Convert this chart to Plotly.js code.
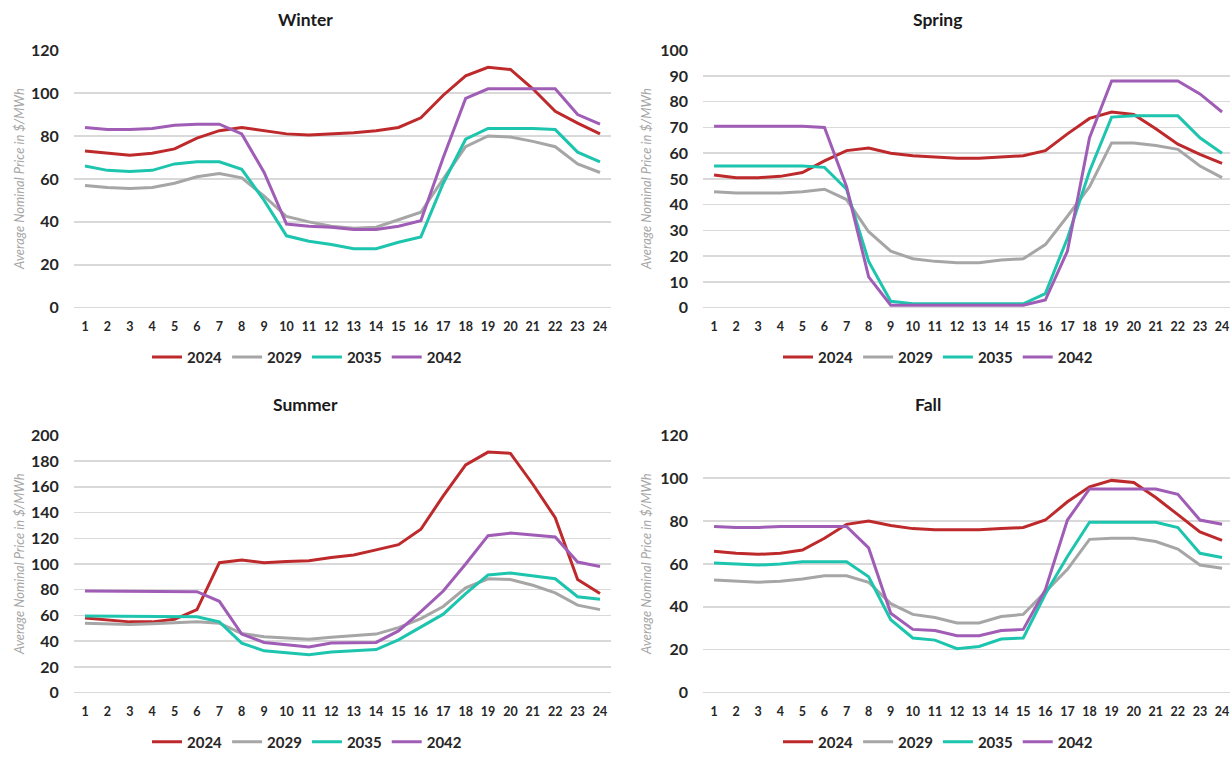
<!DOCTYPE html>
<html>
<head>
<meta charset="utf-8">
<script src="https://cdn.plot.ly/plotly-3.0.1.min.js"></script>
<style>html,body{margin:0;padding:0;background:#fff;}#chart{width:1230px;height:759px;}</style>
</head>
<body>
<div id="chart"></div>
<script>
// Hours
const hours = [1,2,3,4,5,6,7,8,9,10,11,12,13,14,15,16,17,18,19,20,21,22,23,24];
const years = ["2024","2029","2035","2042"];
const seasons = ["Winter","Spring","Summer","Fall"];

// Winter
const winter2024 = [73,72,71,72,74,79,82.5,84,82.5,81,80.5,81,81.5,82.5,84,88.5,99,108,112,111,102,91.5,86,81];
const winter2029 = [57,56,55.5,56,58,61,62.5,60.5,52,42.5,40,38,37,37.5,41,44.5,60,75,80,79.5,77.5,75,67,63];
const winter2035 = [66,64,63.5,64,67,68,68,64.5,50,33.5,31,29.5,27.5,27.5,30.5,33,58,78.5,83.5,83.5,83.5,83,72.5,68];
const winter2042 = [84,83,83,83.5,85,85.5,85.5,81,63,39,38,37.5,36.5,36.5,38,40.5,70,97.5,102,102,102,102,90,85.5];

// Spring
const spring2024 = [51.5,50.5,50.5,51,52.5,57,61,62,60,59,58.5,58,58,58.5,59,61,67.5,73.5,76,75,69.5,63.5,59.5,56];
const spring2029 = [45,44.5,44.5,44.5,45,46,42,29.5,22,19,18,17.5,17.5,18.5,19,24.5,35.5,47,64,64,63,61.5,55,50.5];
const spring2035 = [55,55,55,55,55,54.5,46,18,2.5,1.5,1.5,1.5,1.5,1.5,1.5,5.5,27,53,74,74.5,74.5,74.5,66,60];
const spring2042 = [70.5,70.5,70.5,70.5,70.5,70,47,12,1,1,1,1,1,1,1,3,22,66,88,88,88,88,83,76];

// Summer
const summer2024 = [58,56.5,55,55,57,64.5,101,103,101,102,102.5,105,107,111,115,127,153,177,187,186,162,136,88,77];
const summer2029 = [54,53.5,53,53.5,54,55,54,46,43.5,42.5,41.5,43,44,45.5,50.5,57.5,67,81.5,88.5,88,83.5,77.5,68,64.5];
const summer2035 = [59.5,59.5,59.5,59.5,59.5,59,55,38.5,32.5,31,29.5,31.5,32.5,33.5,41,51,61,77,91.5,93,90.5,88.5,74.5,72.5];
const summer2042 = [79,79,79,79,79,78.5,71,45.5,39,37,35.5,38.5,39,39,48,63,79,100,122,124,122.5,121,101.5,98];

// Fall
const fall2024 = [66,65,64.5,65,66.5,72,78.5,80,78,76.5,76,76,76,76.5,77,80.5,89,96,99,98,91,83,75,71];
const fall2029 = [52.5,52,51.5,52,53,54.5,54.5,51.5,41.5,36.5,35,32.5,32.5,35.5,36.5,47,57.5,71.5,72,72,70.5,67,59.5,58];
const fall2035 = [60.5,60,59.5,60,61,61,61,54,34,25.5,24.5,20.5,21.5,25,25.5,46,63.5,79.5,79.5,79.5,79.5,77,65,63];
const fall2042 = [77.5,77,77,77.5,77.5,77.5,77.5,67.5,37,29.5,29,26.5,26.5,29,29.5,48,80.5,95,95,95,95,92.5,80.5,78.5];

const yTitle = "Average Nominal Price in $/MWh";

const colors = {"2024":"#BE2A2C","2029":"#A6A6A6","2035":"#1DC5AE","2042":"#A05DB6"};
const FONT = "Lato, 'Open Sans', 'Liberation Sans', sans-serif";

const seriesBySeason = [
  [winter2024, winter2029, winter2035, winter2042],
  [spring2024, spring2029, spring2035, spring2042],
  [summer2024, summer2029, summer2035, summer2042],
  [fall2024, fall2029, fall2035, fall2042]
];

const W = 1230, H = 759;
const px = v => v / W;
const py = v => (H - v) / H;

const axisSuffix = ["", "2", "3", "4"];
const legendIds = ["legend", "legend2", "legend3", "legend4"];

const traces = [];
seriesBySeason.forEach((set, si) => {
  set.forEach((vals, yi) => {
    traces.push({
      x: hours, y: vals, type: "scatter", mode: "lines",
      name: years[yi],
      line: {color: colors[years[yi]], width: 3},
      xaxis: "x" + axisSuffix[si], yaxis: "y" + axisSuffix[si],
      legend: legendIds[si],
      hoverinfo: "skip"
    });
  });
});

// panel geometry (pixels)
const panels = [
  {xl: 73.8, xr: 611.2, yt: 50.7, yb: 311, xrange: [0.5, 24.5], ymax: 120, dtick: 20, titleX: 305, titleY: 20, legX: 307, legY: 361, ytX: 19},
  {xl: 703, xr: 1230, yt: 50.7, yb: 311, xrange: [0.5, 24.36], ymax: 100, dtick: 10, titleX: 937, titleY: 20, legX: 938, legY: 361, ytX: 646},
  {xl: 73.8, xr: 611.2, yt: 440, yb: 700, xrange: [0.5, 24.5], ymax: 200, dtick: 20, titleX: 305, titleY: 409, legX: 307, legY: 750, ytX: 19},
  {xl: 703, xr: 1230, yt: 440, yb: 700, xrange: [0.5, 24.36], ymax: 120, dtick: 20, titleX: 928, titleY: 409, legX: 938, legY: 750, ytX: 646}
];

const layout = {
  width: W, height: H,
  margin: {l: 0, r: 0, t: 0, b: 0},
  paper_bgcolor: "#ffffff", plot_bgcolor: "#ffffff",
  font: {family: FONT, color: "#262626"},
  showlegend: true,
  annotations: []
};

panels.forEach((p, i) => {
  const s = axisSuffix[i];
  layout["xaxis" + s] = {
    domain: [px(p.xl), Math.min(1, px(p.xr))],
    range: p.xrange,
    tickmode: "array", tickvals: hours, ticktext: hours.map(String),
    showgrid: false, zeroline: false, showline: false, ticks: "",
    tickfont: {family: FONT, size: 12.5, color: "#262626", weight: "bold"},
    ticklabelstandoff: 10,
    anchor: "y" + s, fixedrange: true
  };
  layout["yaxis" + s] = {
    domain: [py(p.yb), py(p.yt)],
    range: [0, p.ymax],
    dtick: p.dtick, tick0: 0,
    showgrid: true, gridcolor: "#D9D9D9", gridwidth: 1.5,
    zeroline: true, zerolinecolor: "#D9D9D9", zerolinewidth: 1.5,
    showline: false, ticks: "",
    tickfont: {family: FONT, size: 16, color: "#262626", weight: "bold"},
    ticklabelstandoff: 14,
    anchor: "x" + s, fixedrange: true
  };
  layout[legendIds[i]] = {
    orientation: "h",
    x: px(p.legX), xanchor: "center",
    y: py(p.legY), yanchor: "middle",
    font: {family: FONT, size: 15, color: "#262626", weight: "bold"},
    bgcolor: "rgba(0,0,0,0)",
    itemwidth: 30
  };
  layout.annotations.push({
    text: "<b>" + seasons[i] + "</b>",
    xref: "paper", yref: "paper",
    x: px(p.titleX), y: py(p.titleY),
    xanchor: "center", yanchor: "middle",
    showarrow: false,
    font: {family: FONT, size: 17.5, color: "#1a1a1a"}
  });
  layout.annotations.push({
    text: "<i>" + yTitle + "</i>",
    xref: "paper", yref: "paper",
    x: px(p.ytX), y: py((p.yt + p.yb) / 2),
    xanchor: "center", yanchor: "middle",
    textangle: -90, showarrow: false,
    font: {family: FONT, size: 13, color: "#A6A6A6"}
  });
});

Plotly.newPlot("chart", traces, layout, {displayModeBar: false, staticPlot: true});
</script>
</body>
</html>
